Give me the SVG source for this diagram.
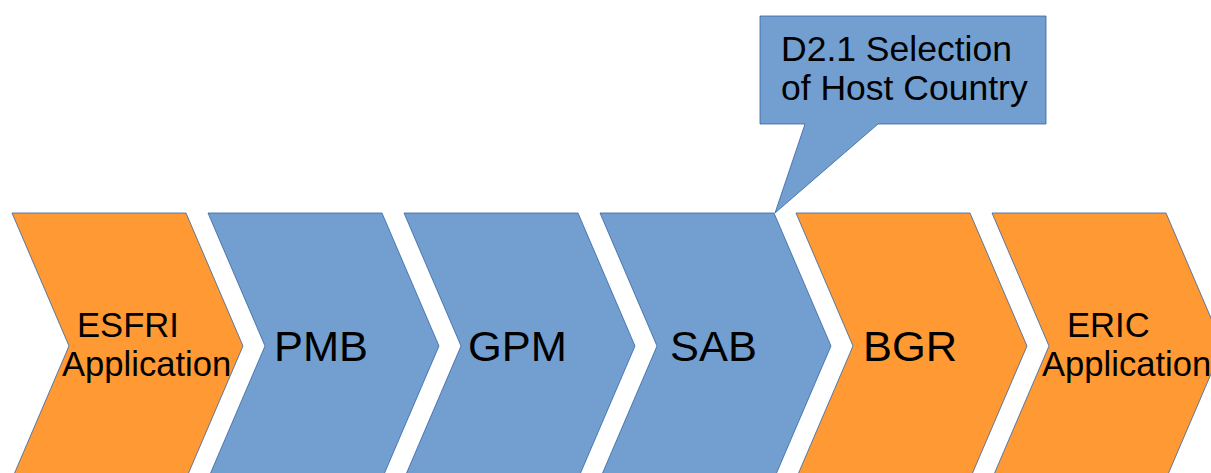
<svg xmlns="http://www.w3.org/2000/svg" width="1211" height="473" viewBox="0 0 1211 473">
<defs>
<style>
.orange{fill:#ff9933;stroke:#3465a4;stroke-width:0.8}
.blue{fill:#729fcf;stroke:#3465a4;stroke-width:0.8}
.big{font-family:"Liberation Sans",Arial,sans-serif;font-size:43.4px;fill:#000}
.small{font-family:"Liberation Sans",Arial,sans-serif;font-size:34.6px;fill:#000}
.call{font-family:"Liberation Sans",Arial,sans-serif;font-size:35.5px;fill:#000}
</style>
<path id="chev" d="M0,213 L174,213 L231,346 L174,479 L0,479 L57,346 Z"/>
</defs>
<rect width="1211" height="473" fill="#fff"/>
<g id="esfri">
<use href="#chev" x="12" class="orange"/>
<text class="small" x="77" y="337">ESFRI</text>
<text class="small" x="62" y="376">Application</text>
</g>
<g id="pmb">
<use href="#chev" x="208" class="blue"/>
<text class="big" x="274" y="361">PMB</text>
</g>
<g id="gpm">
<use href="#chev" x="404" class="blue"/>
<text class="big" x="468" y="361">GPM</text>
</g>
<g id="sab">
<use href="#chev" x="600" class="blue"/>
<text class="big" x="670" y="361">SAB</text>
</g>
<g id="bgr">
<use href="#chev" x="796" class="orange"/>
<text class="big" x="863" y="361">BGR</text>
</g>
<g id="eric">
<use href="#chev" x="992" class="orange"/>
<text class="small" x="1067" y="337">ERIC</text>
<text class="small" x="1042" y="376">Application</text>
</g>
<g id="callout">
<path class="blue" d="M760,16 H1046 V124 H878 L775,213 L805,124 H760 Z"/>
<text class="call" x="781" y="61">D2.1 Selection</text>
<text class="call" x="781" y="100">of Host Country</text>
</g>
<g id="connectors"></g>
</svg>
